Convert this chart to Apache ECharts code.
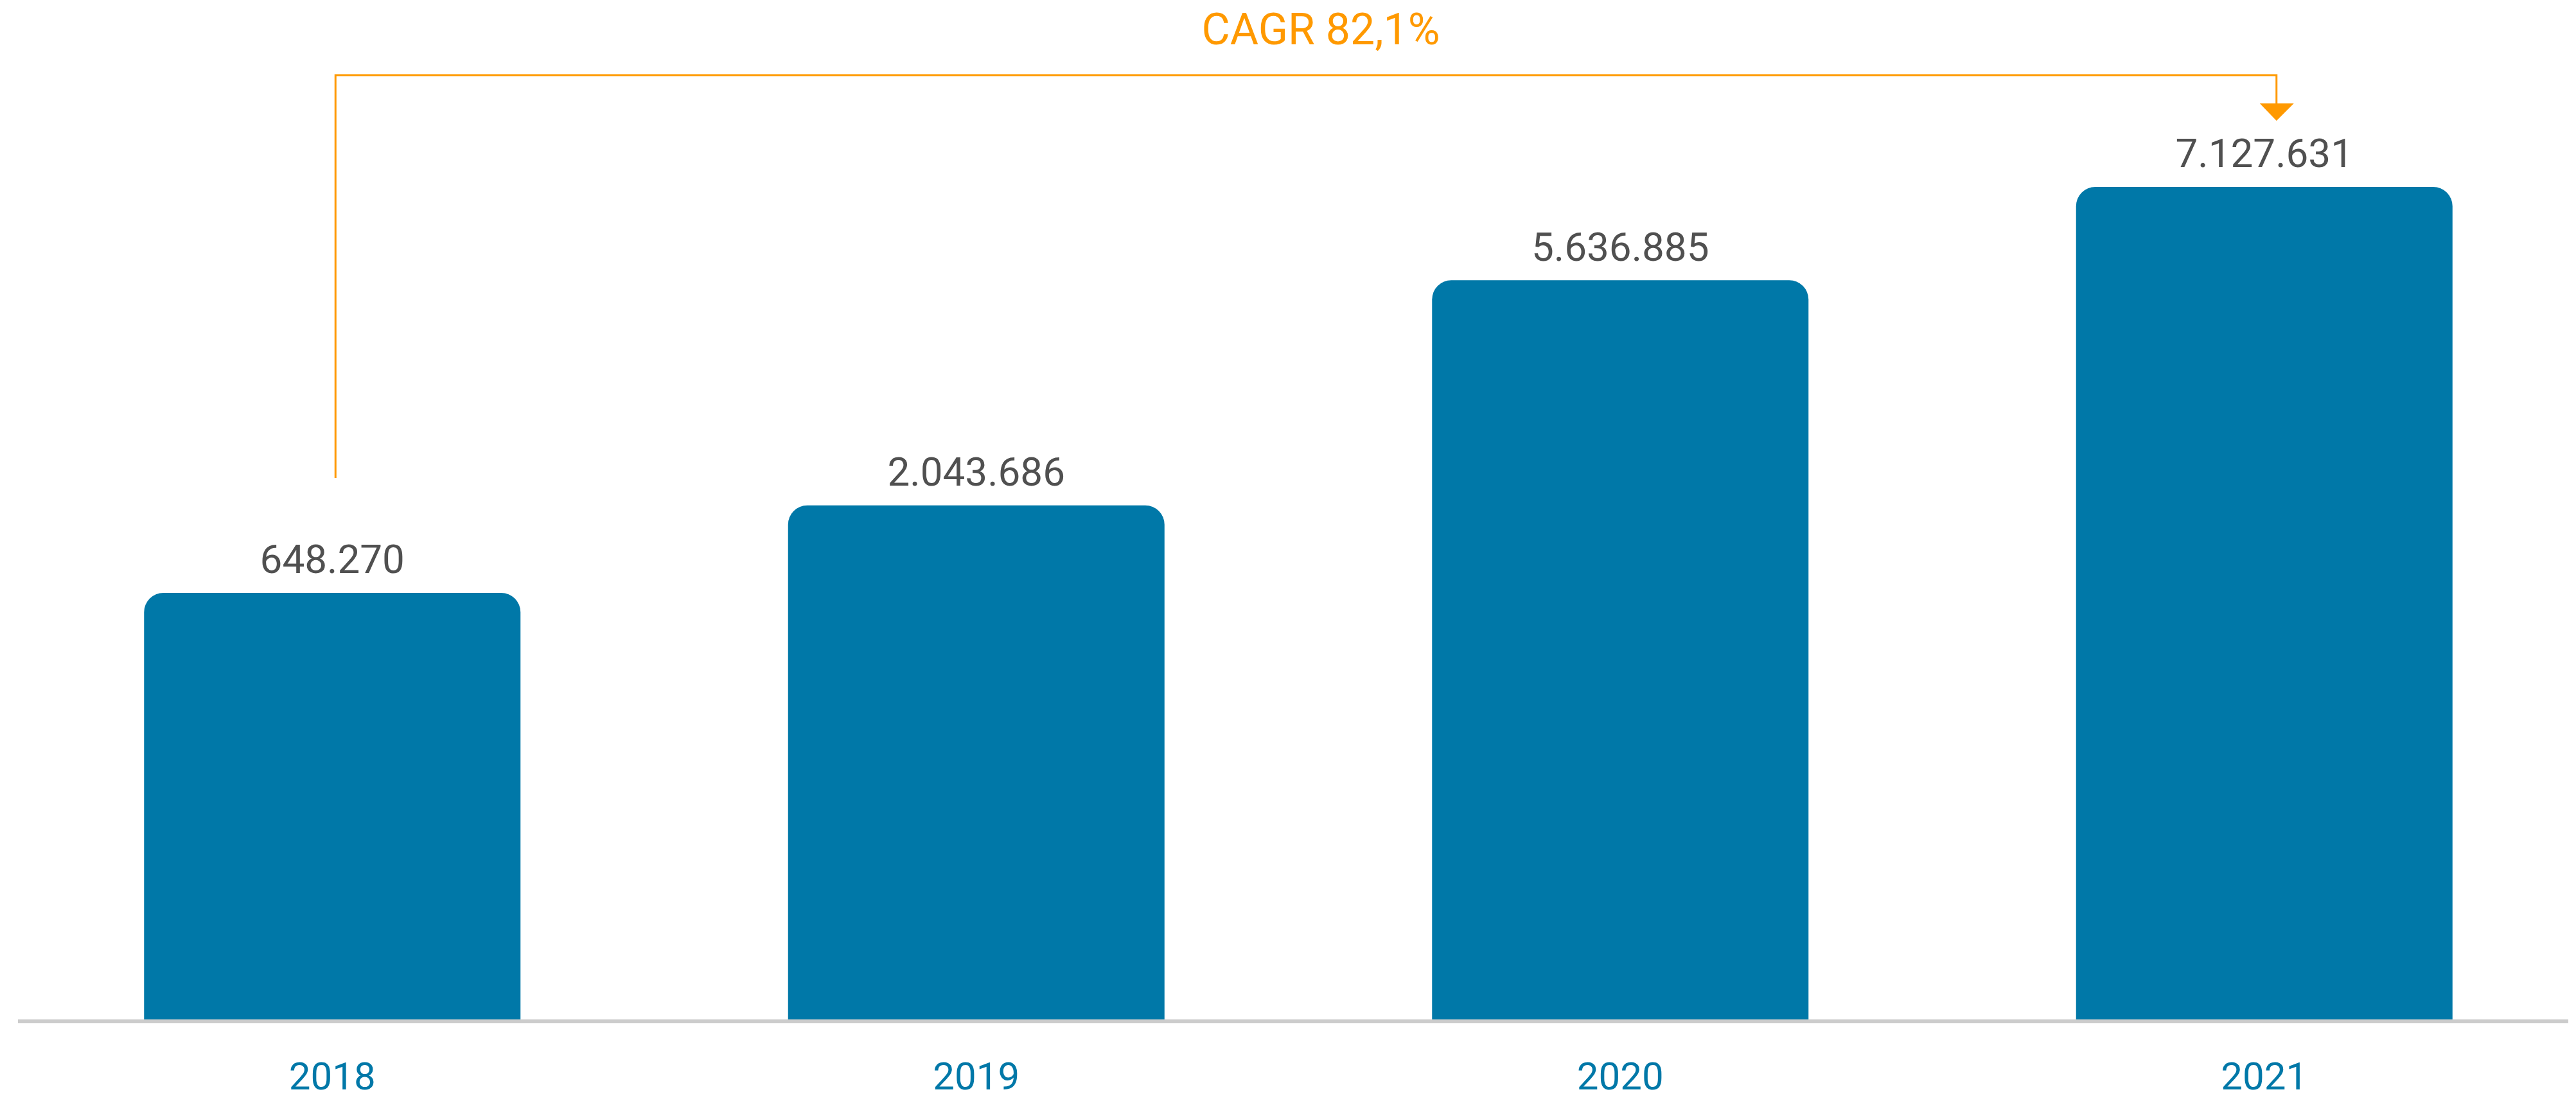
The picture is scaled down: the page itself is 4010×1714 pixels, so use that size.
<!DOCTYPE html>
<html>
<head>
<meta charset="utf-8">
<title>Clientes 2018-2021</title>
<script src="https://cdn.jsdelivr.net/npm/echarts@6/dist/echarts.min.js"></script>
<style>
  html, body { margin: 0; padding: 0; background: #fff; }
  #chart { width: 4010px; height: 1714px; }
</style>
</head>
<body>
<div id="chart"></div>
<script>
// datos
const years = ['2018', '2019', '2020', '2021']
const clients = [648270, 2043686, 5636885, 7127631]
const cagrText = 'CAGR 82,1%'

// the value axis in the original does not start at zero: the baseline sits ~6,16M below 0
const axisMin = -6160000
const axisMax = 9085000

const BLUE = '#0078a8'
const ORANGE = '#ff9900'
const FONT = 'Roboto, "Open Sans", sans-serif'

// 7127631 -> 7.127.631
const fmt = v => String(v).replace(/\B(?=(\d{3})+(?!\d))/g, '.')

const chart = echarts.init(document.getElementById('chart'))

const option = {
  animation: false,
  backgroundColor: '#fff',
  grid: {
    left: 16,
    width: 4010, // bands are a bit wider than the canvas, like in the original
    top: 100,
    bottom: 127,
    containLabel: false,
    outerBoundsMode: 'none'
  },
  xAxis: {
    type: 'category',
    data: years,
    axisLine: { show: false },
    axisTick: { show: false },
    axisLabel: {
      color: BLUE,
      fontFamily: FONT,
      fontSize: 60,
      margin: 64
    }
  },
  yAxis: {
    type: 'value',
    min: axisMin,
    max: axisMax,
    startValue: axisMin, // bars grow from the bottom of the grid, not from 0
    show: false,
    splitLine: { show: false }
  },
  series: [
    {
      name: 'Clientes',
      type: 'bar',
      barWidth: 586,
      data: clients,
      itemStyle: {
        color: BLUE,
        borderRadius: [30, 30, 0, 0]
      },
      label: {
        show: true,
        position: 'top',
        distance: 15,
        color: '#505050',
        fontFamily: FONT,
        fontSize: 62,
        formatter: p => fmt(p.value)
      }
    }
  ]
}

chart.setOption(option)

// CAGR bracket from 2018 to 2021
const x0 = chart.convertToPixel({ xAxisIndex: 0 }, 0) + 5
const x1 = chart.convertToPixel({ xAxisIndex: 0 }, years.length - 1) + 19
const lineY = 117

chart.setOption({
  graphic: [
    {
      type: 'line',
      shape: { x1: 28, y1: 1590, x2: 3998, y2: 1590 },
      style: { stroke: '#cccccc', lineWidth: 6 }
    },
    {
      type: 'polyline',
      shape: { points: [[x0, 744], [x0, lineY], [x1, lineY], [x1, 162]] },
      style: { stroke: ORANGE, lineWidth: 3, fill: null }
    },
    {
      type: 'polygon',
      shape: { points: [[x1 - 26, 161], [x1 + 27, 161], [x1, 188]] },
      style: { fill: ORANGE }
    },
    {
      type: 'text',
      style: {
        text: cagrText,
        x: 2056,
        y: 52,
        fill: ORANGE,
        font: '68px ' + FONT,
        textAlign: 'center',
        textVerticalAlign: 'middle'
      }
    }
  ]
})
</script>
</body>
</html>
